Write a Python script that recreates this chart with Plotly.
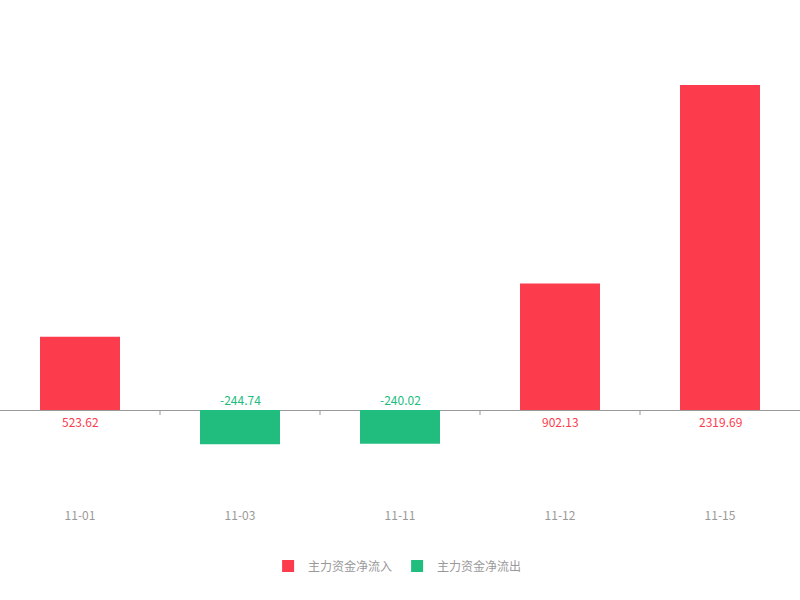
import plotly.graph_objects as go

categories = ["11-01", "11-03", "11-11", "11-12", "11-15"]
values = [523.62, -244.74, -240.02, 902.13, 2319.69]
label_texts = ["523.62", "-244.74", "-240.02", "902.13", "2319.69"]
series_names = ["主力资金净流入", "主力资金净流出"]

RED = "#fc3c4d"
GREEN = "#20bd7e"
FONT = "Noto Sans CJK SC"

inflow = [v if v >= 0 else None for v in values]
outflow = [v if v < 0 else None for v in values]

fig = go.Figure()
fig.add_trace(go.Bar(x=categories, y=inflow, name=series_names[0],
                     marker=dict(color=RED, line=dict(width=0)), width=0.5))
fig.add_trace(go.Bar(x=categories, y=outflow, name=series_names[1],
                     marker=dict(color=GREEN, line=dict(width=0)), width=0.5))

for c, v, t in zip(categories, values, label_texts):
    fig.add_annotation(x=c, y=0, text=t, showarrow=False,
                       yanchor="middle", yshift=(-11 if v >= 0 else 11),
                       font=dict(family=FONT, size=12, color=(RED if v >= 0 else GREEN)))

# boundary ticks under the zero line
for i in range(1, len(categories)):
    fig.add_shape(type="line", xref="x", yref="y", x0=i - 0.5, x1=i - 0.5,
                  ysizemode="pixel", yanchor=0, y0=0, y1=-5,
                  line=dict(color="#999999", width=1))

fig.update_layout(
    width=800, height=600,
    margin=dict(l=0, r=0, t=60, b=93),
    paper_bgcolor="white", plot_bgcolor="white",
    barmode="relative",
    showlegend=True,
    legend=dict(orientation="h", x=0.497, xanchor="center", y=-0.132, yanchor="middle",
                font=dict(family=FONT, size=12, color="#999999"),
                traceorder="normal"),
    xaxis=dict(type="category", showgrid=False, showline=False, ticks="", zeroline=False,
               tickfont=dict(family=FONT, size=12, color="#999999"),
               range=[-0.5, 4.5]),
    yaxis=dict(range=[-692.3, 2498.1], showgrid=False, showticklabels=False,
               zeroline=True, zerolinecolor="#999999", zerolinewidth=1, showline=False),
    font=dict(family=FONT),
)

fig.write_html("out.html", config={"displayModeBar": False},
               post_script="document.body.style.margin='0';document.body.style.overflow='hidden';")
